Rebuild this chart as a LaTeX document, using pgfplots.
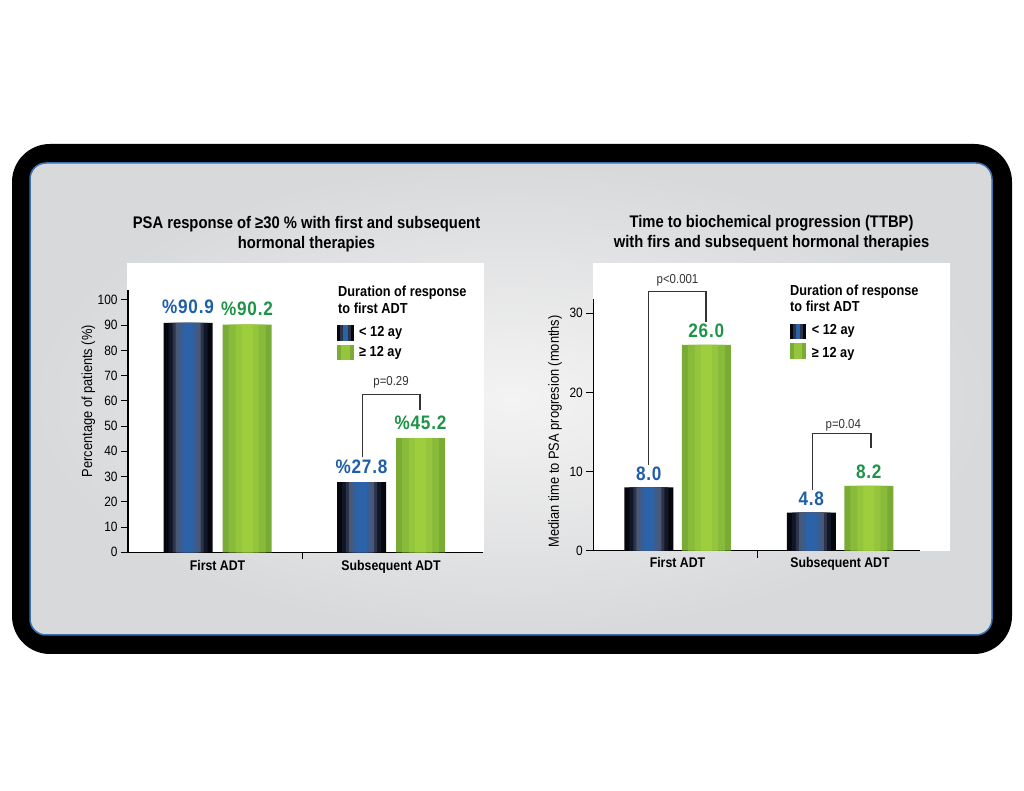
\documentclass[border=0pt]{standalone}
\usepackage{fontspec}
\setmainfont{Liberation Sans}[FakeStretch=0.88]
\newfontfamily\valfont{Liberation Sans}[FakeStretch=0.88, LetterSpace=4]
\usepackage{pgfplots}
\usepackage{pgfplotstable}
\pgfplotsset{compat=1.18}

% blue bar layers (edge -> centre)
\definecolor{bL1}{HTML}{05070C}
\definecolor{bL2}{HTML}{121727}
\definecolor{bL3}{HTML}{2C3449}
\definecolor{bL4}{HTML}{4B5875}
\definecolor{bL5}{HTML}{3C5C8D}
\definecolor{bL6}{HTML}{2C62A8}
% green bar layers
\definecolor{gL1}{HTML}{7AAB35}
\definecolor{gL2}{HTML}{88BB39}
\definecolor{gL3}{HTML}{94C53C}
\definecolor{gL4}{HTML}{9ECD3E}
\definecolor{lblblue}{HTML}{1F5EA8}
\definecolor{lblgreen}{HTML}{1E9448}
\definecolor{brk}{HTML}{333333}
\definecolor{panelin}{HTML}{F3F3F3}
\definecolor{panelout}{HTML}{D8D9DB}
\definecolor{panelborder}{HTML}{3A6FB0}

% data
\pgfplotstableread{
x lt ge
0 90.9 90.2
1 27.8 45.2
}\psatab
\pgfplotstableread{
x lt ge
0 8.0 26.0
1 4.8 8.2
}\ttbptab

\pgfplotsset{
  mybars/.style={
    scale only axis,
    axis x line*=bottom, axis y line*=left,
    axis line style={line width=1.4pt, black},
    clip=false,
    ymin=0,
    ybar,
    tick align=outside,
    major tick length=7pt,
    /pgf/number format/assume math mode=true,
    ytick style={line width=1.1pt, black},
    yticklabel style={font=\fontsize{13.5}{14}\selectfont},
    xtick={0.49}, xticklabels={},
    xtick style={line width=1.1pt, black},
    extra x ticks={0,1},
    extra x tick labels={First ADT, Subsequent ADT},
    extra x tick style={major tick length=0pt, xticklabel style={font=\bfseries\fontsize{14}{15}\selectfont, anchor=base}},
    every axis y label/.style={font=\fontsize{14.6}{15}\selectfont, rotate=90, anchor=center},
    every axis plot/.append style={draw=none},
  },
  vallbl/.style={every node near coord/.append style={anchor=base, yshift=#1}},
}

% #1 bar shift, #2 table, #3 column, #4 options of the top layer (labels)
\newcommand{\bluestack}[4]{%
\addplot[bar shift=#1, bar width=49pt, fill=bL1] table[x=x,y=#3]{#2};
\addplot[bar shift=#1, bar width=39pt, fill=bL2] table[x=x,y=#3]{#2};
\addplot[bar shift=#1, bar width=31pt, fill=bL3] table[x=x,y=#3]{#2};
\addplot[bar shift=#1, bar width=25pt, fill=bL4] table[x=x,y=#3]{#2};
\addplot[bar shift=#1, bar width=19pt, fill=bL5] table[x=x,y=#3]{#2};
\addplot[bar shift=#1, bar width=11pt, fill=bL6, #4] table[x=x,y=#3]{#2};
}
\newcommand{\greenstack}[4]{%
\addplot[bar shift=#1, bar width=49pt, fill=gL1] table[x=x,y=#3]{#2};
\addplot[bar shift=#1, bar width=37pt, fill=gL2] table[x=x,y=#3]{#2};
\addplot[bar shift=#1, bar width=23pt, fill=gL3] table[x=x,y=#3]{#2};
\addplot[bar shift=#1, bar width=11pt, fill=gL4, #4] table[x=x,y=#3]{#2};
}
\newcommand{\pctlbl}{\valfont\bfseries\fontsize{19.5}{20}\selectfont\%\pgfmathprintnumber[fixed,fixed zerofill,precision=1]{\pgfplotspointmeta}}
\newcommand{\numlbl}{\valfont\bfseries\fontsize{19.5}{20}\selectfont\pgfmathprintnumber[fixed,fixed zerofill,precision=1]{\pgfplotspointmeta}}

\begin{document}
\begin{tikzpicture}[x=1pt,y=1pt]
\useasboundingbox (0pt,0pt) rectangle (1024pt,791pt);
\fill[white] (0pt,0pt) rectangle (1024pt,791pt);
% frame and panel
\fill[black, rounded corners=38pt] (12pt,137pt) rectangle (1012pt,647pt);
\shade[rounded corners=16pt, inner color=panelin, outer color=panelout] (30pt,156pt) rectangle (992pt,628pt);
\draw[rounded corners=16pt, draw=panelborder, line width=1.5pt] (30pt,156pt) rectangle (992pt,628pt);
% white chart backgrounds
\fill[white] (127pt,238.7pt) rectangle (484pt,528pt);
\fill[white] (593pt,240.3pt) rectangle (950pt,528pt);

% titles
\node[anchor=base, inner sep=0, font=\bfseries\fontsize{16.8}{20}\selectfont] at (306.5pt,562.7pt) {PSA response of ≥30 \% with first and subsequent};
\node[anchor=base, inner sep=0, font=\bfseries\fontsize{16.8}{20}\selectfont] at (306.5pt,542.7pt) {hormonal therapies};
\node[anchor=base, inner sep=0, font=\bfseries\fontsize{16.8}{20}\selectfont] at (771.5pt,563pt) {Time to biochemical progression (TTBP)};
\node[anchor=base, inner sep=0, font=\bfseries\fontsize{16.8}{20}\selectfont] at (771.5pt,543pt) {with firs and subsequent hormonal therapies};

% ---------- left chart ----------
\begin{axis}[mybars,
  at={(128pt,238.7pt)}, anchor=south west,
  width=355pt, height=262pt,
  xmin=-0.516, xmax=1.53, ymax=103.8,
  ytick={0,10,...,100},
  extra x tick style={xticklabel style={yshift=-18.4pt}},
  ylabel={Percentage of patients (\%)},
  ylabel style={at={(axis description cs:-0.112,0.577)}},
]
\bluestack{-29.5pt}{\psatab}{lt}{nodes near coords={\pctlbl}, vallbl=9pt, every node near coord/.append style={text=lblblue}}
\greenstack{29.5pt}{\psatab}{ge}{nodes near coords={\pctlbl}, vallbl=9pt, every node near coord/.append style={text=lblgreen}}
\draw[brk, line width=1.4pt] (axis cs:0.835,37.9) |- (axis cs:1.167,62.4) -- (axis cs:1.167,56.4);
\node[anchor=base, inner sep=0, font=\fontsize{13}{14}\selectfont, text=brk] at (axis cs:1.0,66.2) {p=0.29};
\end{axis}

% ---------- right chart ----------
\begin{axis}[mybars,
  at={(593.3pt,240.3pt)}, anchor=south west,
  width=326.7pt, height=251.7pt,
  xmin=-0.518, xmax=1.492, ymax=31.8,
  ytick={0,10,20,30},
  extra x tick style={xticklabel style={yshift=-16.6pt}},
  ylabel={Median time to PSA progresion (months)},
  ylabel style={at={(axis description cs:-0.117,0.474)}},
]
\bluestack{-28.75pt}{\ttbptab}{lt}{nodes near coords={\numlbl}, vallbl=7pt, every node near coord/.append style={text=lblblue}}
\greenstack{28.75pt}{\ttbptab}{ge}{nodes near coords={\numlbl}, vallbl=7pt, every node near coord/.append style={text=lblgreen}}
\draw[brk, line width=1.4pt] (axis cs:-0.18,10.83) |- (axis cs:0.175,32.73) -- (axis cs:0.175,28.94);
\node[anchor=base, inner sep=0, font=\fontsize{13}{14}\selectfont, text=brk] at (axis cs:0,33.7) {p<0.001};
\draw[brk, line width=1.4pt] (axis cs:0.83,7.73) |- (axis cs:1.19,14.84) -- (axis cs:1.19,12.98);
\node[anchor=base, inner sep=0, font=\fontsize{13}{14}\selectfont, text=brk] at (axis cs:1.02,15.5) {p=0.04};
\end{axis}

% legends
\begin{scope}[every node/.style={anchor=base west, inner sep=0, font=\bfseries\fontsize{14.5}{16}\selectfont}]
\node at (338pt,494.3pt) {Duration of response};
\node at (338pt,477.7pt) {to first ADT};
\fill[bL1] (337pt,450pt) rectangle (354pt,466pt);
\fill[bL3] (340pt,450pt) rectangle (351pt,466pt);
\fill[bL6] (343pt,450pt) rectangle (348pt,466pt);
\fill[gL1] (337pt,431pt) rectangle (354pt,446pt);
\fill[gL3] (341pt,431pt) rectangle (350pt,446pt);
\node at (359pt,454pt) {< 12 ay};
\node at (359pt,434pt) {≥ 12 ay};
\node at (790pt,495.5pt) {Duration of response};
\node at (790pt,479pt) {to first ADT};
\fill[bL1] (789.5pt,451.7pt) rectangle (806pt,467pt);
\fill[bL3] (792.5pt,451.7pt) rectangle (803pt,467pt);
\fill[bL6] (795.5pt,451.7pt) rectangle (800pt,467pt);
\fill[gL1] (789.5pt,432pt) rectangle (806pt,447.7pt);
\fill[gL3] (793.5pt,432pt) rectangle (802pt,447.7pt);
\node at (811.7pt,456pt) {< 12 ay};
\node at (811.7pt,433.7pt) {≥ 12 ay};
\end{scope}
\end{tikzpicture}
\end{document}
